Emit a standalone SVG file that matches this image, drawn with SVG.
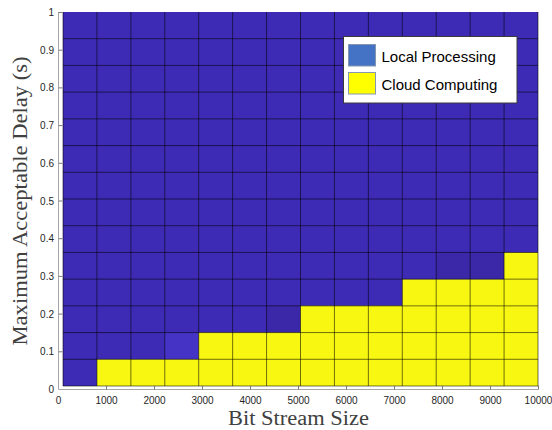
<svg xmlns="http://www.w3.org/2000/svg" width="552" height="430" viewBox="0 0 552 430">
  <style>
    .tick { font-family: "Liberation Sans", Arial, sans-serif; font-size: 10px; fill: #262626; }
    .ylab { text-anchor: end; }
    .xlab { text-anchor: middle; }
    .axlabel { font-family: "Liberation Serif", "Times New Roman", serif; font-size: 20px; fill: #404040; text-anchor: middle; }
    .legtext { font-family: "Liberation Sans", Arial, sans-serif; font-size: 15px; fill: #000; }
    .grid line { stroke: #000; stroke-opacity: 0.55; stroke-width: 1; }
    .axis { stroke: #a6a6a6; stroke-width: 1; fill: none; }
    .major { stroke: #7a7a7a; stroke-width: 1; }
  </style>
  <rect width="552" height="430" fill="#fff"/>

  <!-- decision map: blue = local, yellow = cloud -->
  <g id="map">
    <rect x="63" y="12" width="475" height="374" fill="#3d2bb5"/>
    <!-- slight shading differences between cells -->
    <rect x="164.79" y="332.57" width="33.93" height="26.72" fill="#4533c6"/>
    <rect x="266.57" y="305.86" width="33.93" height="26.71" fill="#3a28a8"/>
    <rect x="436.21" y="252.43" width="67.86" height="26.71" fill="#3a28a8"/>
    <polygon fill="#f7f712" points="96.93,386 96.93,359.29 198.71,359.29 198.71,332.57 300.5,332.57 300.5,305.86 402.29,305.86 402.29,279.14 504.07,279.14 504.07,252.43 538,252.43 538,386"/>
  </g>

  <!-- cell edges -->
  <g class="grid">
    <line x1="63" y1="12" x2="63" y2="386"/>
    <line x1="96.93" y1="12" x2="96.93" y2="386"/>
    <line x1="130.86" y1="12" x2="130.86" y2="386"/>
    <line x1="164.79" y1="12" x2="164.79" y2="386"/>
    <line x1="198.71" y1="12" x2="198.71" y2="386"/>
    <line x1="232.64" y1="12" x2="232.64" y2="386"/>
    <line x1="266.57" y1="12" x2="266.57" y2="386"/>
    <line x1="300.5" y1="12" x2="300.5" y2="386"/>
    <line x1="334.43" y1="12" x2="334.43" y2="386"/>
    <line x1="368.36" y1="12" x2="368.36" y2="386"/>
    <line x1="402.29" y1="12" x2="402.29" y2="386"/>
    <line x1="436.21" y1="12" x2="436.21" y2="386"/>
    <line x1="470.14" y1="12" x2="470.14" y2="386"/>
    <line x1="504.07" y1="12" x2="504.07" y2="386"/>
    <line x1="538" y1="12" x2="538" y2="386"/>
    <line x1="63" y1="38.71" x2="538" y2="38.71"/>
    <line x1="63" y1="65.43" x2="538" y2="65.43"/>
    <line x1="63" y1="92.14" x2="538" y2="92.14"/>
    <line x1="63" y1="118.86" x2="538" y2="118.86"/>
    <line x1="63" y1="145.57" x2="538" y2="145.57"/>
    <line x1="63" y1="172.29" x2="538" y2="172.29"/>
    <line x1="63" y1="199" x2="538" y2="199"/>
    <line x1="63" y1="225.71" x2="538" y2="225.71"/>
    <line x1="63" y1="252.43" x2="538" y2="252.43"/>
    <line x1="63" y1="279.14" x2="538" y2="279.14"/>
    <line x1="63" y1="305.86" x2="538" y2="305.86"/>
    <line x1="63" y1="332.57" x2="538" y2="332.57"/>
    <line x1="63" y1="359.29" x2="538" y2="359.29"/>
    <line x1="63" y1="386" x2="538" y2="386"/>
  </g>

  <!-- axes -->
  <g id="axes">
    <path class="axis" d="M58.5,12 V389.5 H538.5"/>
    <g class="major">
      <line x1="58.5" y1="12.5" x2="62.5" y2="12.5"/>
      <line x1="58.5" y1="50.2" x2="62.5" y2="50.2"/>
      <line x1="58.5" y1="87.9" x2="62.5" y2="87.9"/>
      <line x1="58.5" y1="125.6" x2="62.5" y2="125.6"/>
      <line x1="58.5" y1="163.3" x2="62.5" y2="163.3"/>
      <line x1="58.5" y1="201" x2="62.5" y2="201"/>
      <line x1="58.5" y1="238.7" x2="62.5" y2="238.7"/>
      <line x1="58.5" y1="276.4" x2="62.5" y2="276.4"/>
      <line x1="58.5" y1="314.1" x2="62.5" y2="314.1"/>
      <line x1="58.5" y1="351.8" x2="62.5" y2="351.8"/>
      <line x1="106.5" y1="389.5" x2="106.5" y2="385.5"/>
      <line x1="154.5" y1="389.5" x2="154.5" y2="385.5"/>
      <line x1="202.5" y1="389.5" x2="202.5" y2="385.5"/>
      <line x1="250.5" y1="389.5" x2="250.5" y2="385.5"/>
      <line x1="298.5" y1="389.5" x2="298.5" y2="385.5"/>
      <line x1="346.5" y1="389.5" x2="346.5" y2="385.5"/>
      <line x1="394.5" y1="389.5" x2="394.5" y2="385.5"/>
      <line x1="442.5" y1="389.5" x2="442.5" y2="385.5"/>
      <line x1="490.5" y1="389.5" x2="490.5" y2="385.5"/>
      <line x1="538.5" y1="389.5" x2="538.5" y2="385.5"/>
    </g>
    <g class="tick ylab">
      <text x="54" y="16">1</text>
      <text x="54" y="53.7">0.9</text>
      <text x="54" y="91.4">0.8</text>
      <text x="54" y="129.1">0.7</text>
      <text x="54" y="166.8">0.6</text>
      <text x="54" y="204.5">0.5</text>
      <text x="54" y="242.2">0.4</text>
      <text x="54" y="279.9">0.3</text>
      <text x="54" y="317.6">0.2</text>
      <text x="54" y="355.3">0.1</text>
      <text x="54" y="393">0</text>
    </g>
    <g class="tick xlab">
      <text x="58.5" y="404">0</text>
      <text x="106.5" y="404">1000</text>
      <text x="154.5" y="404">2000</text>
      <text x="202.5" y="404">3000</text>
      <text x="250.5" y="404">4000</text>
      <text x="298.5" y="404">5000</text>
      <text x="346.5" y="404">6000</text>
      <text x="394.5" y="404">7000</text>
      <text x="442.5" y="404">8000</text>
      <text x="490.5" y="404">9000</text>
      <text x="538.5" y="404">10000</text>
    </g>
    <text class="axlabel" x="298.5" y="425" textLength="141" lengthAdjust="spacingAndGlyphs">Bit Stream Size</text>
    <text class="axlabel" transform="translate(27,201) rotate(-90)" x="0" y="0" textLength="289" lengthAdjust="spacingAndGlyphs">Maximum Acceptable Delay (s)</text>
  </g>

  <!-- legend -->
  <g id="legend">
    <rect x="343.5" y="36.5" width="173.5" height="66.5" fill="#fff" stroke="#3a3a3a" stroke-width="1"/>
    <rect x="348.5" y="44.5" width="27" height="21.5" fill="#4472c4" stroke="#8497b0" stroke-width="1"/>
    <rect x="348.5" y="72.5" width="27" height="21.5" fill="#ffff00" stroke="#8497b0" stroke-width="1"/>
    <text class="legtext" x="381.5" y="62.3">Local Processing</text>
    <text class="legtext" x="381.5" y="90">Cloud Computing</text>
  </g>
</svg>
